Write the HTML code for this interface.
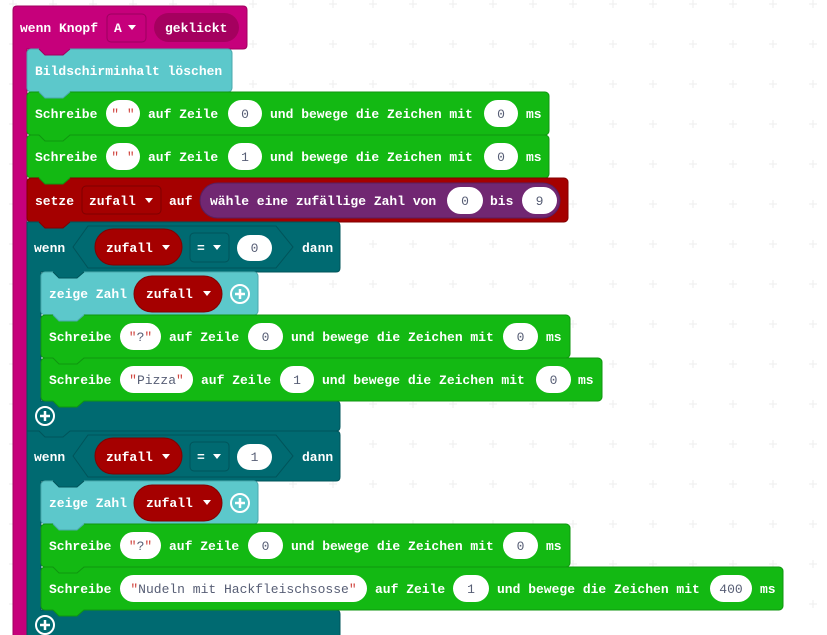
<!DOCTYPE html>
<html><head><meta charset="utf-8"><style>
html,body{margin:0;padding:0;background:#fff;width:827px;height:635px;overflow:hidden}
svg{display:block}
text{font-family:"Liberation Mono",monospace;font-size:13px;font-weight:bold;fill:#fff}
.p{font-weight:normal;fill:#575E75;text-anchor:middle}
.q{fill:#d0453f}
</style></head><body>
<svg width="827" height="635" viewBox="0 0 827 635" xmlns="http://www.w3.org/2000/svg">
<defs>
<pattern id="g" x="-7" y="-16" width="40" height="40" patternUnits="userSpaceOnUse">
<path d="M16,20H24M20,16V24" stroke="#ededed" stroke-width="1"/>
</pattern>
</defs>
<rect width="827" height="635" fill="url(#g)"/>

<!-- hat / event block -->
<path d="M17,6H243Q247,6 247,10V45Q247,49 243,49H27V640H13V10Q13,6 17,6Z" fill="#C6007B" stroke="#A0005F" stroke-width="1"/>
<text x="20" y="32">wenn Knopf</text>
<rect x="107" y="14" width="39" height="28" rx="4" fill="#C6007B" stroke="#9C005F"/>
<text x="114" y="32">A</text>
<polygon points="128,25 136,25 132,30" fill="#fff"/>
<rect x="154" y="13" width="85" height="29" rx="14.5" fill="#A5005F"/>
<text x="165" y="32">geklickt</text>

<!-- clear screen -->
<rect x="27" y="49" width="205" height="43" rx="4" fill="#5CC8CB" stroke="#4AA9AC"/>
<text x="35" y="75">Bildschirminhalt löschen</text>

<!-- green 1 -->
<rect x="27" y="92" width="522" height="43" rx="4" fill="#13B913" stroke="#0F960F"/>
<text x="35" y="118">Schreibe</text>
<rect x="106" y="100" width="34" height="27" rx="13.5" fill="#fff"/>
<text class="p" x="123" y="118"><tspan class="q">"</tspan> <tspan class="q">"</tspan></text>
<text x="148" y="118">auf Zeile</text>
<rect x="228" y="100" width="34" height="27" rx="13.5" fill="#fff"/>
<text class="p" x="245" y="118">0</text>
<text x="270" y="118">und bewege die Zeichen mit</text>
<rect x="484" y="100" width="34" height="27" rx="13.5" fill="#fff"/>
<text class="p" x="501" y="118">0</text>
<text x="526" y="118">ms</text>

<!-- green 2 -->
<rect x="27" y="135" width="522" height="43" rx="4" fill="#13B913" stroke="#0F960F"/>
<text x="35" y="161">Schreibe</text>
<rect x="106" y="143" width="34" height="27" rx="13.5" fill="#fff"/>
<text class="p" x="123" y="161"><tspan class="q">"</tspan> <tspan class="q">"</tspan></text>
<text x="148" y="161">auf Zeile</text>
<rect x="228" y="143" width="34" height="27" rx="13.5" fill="#fff"/>
<text class="p" x="245" y="161">1</text>
<text x="270" y="161">und bewege die Zeichen mit</text>
<rect x="484" y="143" width="34" height="27" rx="13.5" fill="#fff"/>
<text class="p" x="501" y="161">0</text>
<text x="526" y="161">ms</text>

<!-- setze -->
<rect x="27" y="178" width="541" height="44" rx="4" fill="#A50000" stroke="#820000"/>
<text x="35" y="205">setze</text>
<rect x="82" y="186" width="79" height="28" rx="4" fill="#A50000" stroke="#7E0000"/>
<text x="89" y="205">zufall</text>
<polygon points="145,198 153,198 149,203" fill="#fff"/>
<text x="169" y="205">auf</text>
<rect x="200" y="183" width="360" height="35" rx="17.5" fill="#712772" stroke="#5A1E5B"/>
<text x="210" y="205">wähle eine zufällige Zahl von</text>
<rect x="447" y="187" width="36" height="27" rx="13.5" fill="#fff"/>
<text class="p" x="465" y="205">0</text>
<text x="490" y="205">bis</text>
<rect x="522" y="187" width="35" height="27" rx="13.5" fill="#fff"/>
<text class="p" x="539.5" y="205">9</text>

<!-- if 1 -->
<path d="M27,222H336Q340,222 340,226V268Q340,272 336,272H41V401H336Q340,401 340,405V427Q340,431 336,431H27Z" fill="#006A71" stroke="#00545A"/>
<text x="34" y="252">wenn</text>
<polygon points="73,247 88,226 276,226 293,247 276,268 88,268" fill="#006A71" stroke="#00545A"/>
<rect x="95" y="229" width="87" height="36" rx="18" fill="#A50000" stroke="#820000"/>
<text x="106" y="252">zufall</text>
<polygon points="162,245 170,245 166,250" fill="#fff"/>
<rect x="190" y="233" width="39" height="29" rx="4" fill="#006A71" stroke="#00545A"/>
<text x="197" y="252">=</text>
<polygon points="213,245 221,245 217,250" fill="#fff"/>
<rect x="237" y="235" width="35" height="26" rx="13" fill="#fff"/>
<text class="p" x="254.5" y="252">0</text>
<text x="302" y="252">dann</text>

<!-- zeige 1 -->
<rect x="41" y="272" width="217" height="43" rx="4" fill="#5CC8CB" stroke="#4AA9AC"/>
<text x="49" y="298">zeige Zahl</text>
<rect x="134" y="276" width="88" height="36" rx="18" fill="#A50000" stroke="#820000"/>
<text x="146" y="298">zufall</text>
<polygon points="203,291 211,291 207,296" fill="#fff"/>
<circle cx="240" cy="294" r="9" fill="none" stroke="#fff" stroke-width="2"/>
<path d="M235,294H245M240,289V299" stroke="#fff" stroke-width="2.5"/>

<!-- green ? -->
<rect x="41" y="315" width="529" height="43" rx="4" fill="#13B913" stroke="#0F960F"/>
<text x="49" y="341">Schreibe</text>
<rect x="120" y="323" width="41" height="27" rx="13.5" fill="#fff"/>
<text class="p" x="140.5" y="341"><tspan class="q">"</tspan>?<tspan class="q">"</tspan></text>
<text x="169" y="341">auf Zeile</text>
<rect x="248" y="323" width="35" height="27" rx="13.5" fill="#fff"/>
<text class="p" x="265.5" y="341">0</text>
<text x="291" y="341">und bewege die Zeichen mit</text>
<rect x="503" y="323" width="35" height="27" rx="13.5" fill="#fff"/>
<text class="p" x="520.5" y="341">0</text>
<text x="546" y="341">ms</text>

<!-- green Pizza -->
<rect x="41" y="358" width="561" height="43" rx="4" fill="#13B913" stroke="#0F960F"/>
<text x="49" y="384">Schreibe</text>
<rect x="120" y="366" width="73" height="27" rx="13.5" fill="#fff"/>
<text class="p" x="156.5" y="384"><tspan class="q">"</tspan>Pizza<tspan class="q">"</tspan></text>
<text x="201" y="384">auf Zeile</text>
<rect x="280" y="366" width="34" height="27" rx="13.5" fill="#fff"/>
<text class="p" x="297" y="384">1</text>
<text x="322" y="384">und bewege die Zeichen mit</text>
<rect x="536" y="366" width="35" height="27" rx="13.5" fill="#fff"/>
<text class="p" x="553.5" y="384">0</text>
<text x="578" y="384">ms</text>

<circle cx="45" cy="416" r="9" fill="none" stroke="#fff" stroke-width="2"/>
<path d="M40,416H50M45,411V421" stroke="#fff" stroke-width="2.5"/>

<!-- if 2 -->
<path d="M27,431H336Q340,431 340,435V477Q340,481 336,481H41V610H336Q340,610 340,614V640H27Z" fill="#006A71" stroke="#00545A"/>
<text x="34" y="461">wenn</text>
<polygon points="73,456 88,435 276,435 293,456 276,477 88,477" fill="#006A71" stroke="#00545A"/>
<rect x="95" y="438" width="87" height="36" rx="18" fill="#A50000" stroke="#820000"/>
<text x="106" y="461">zufall</text>
<polygon points="162,454 170,454 166,459" fill="#fff"/>
<rect x="190" y="442" width="39" height="29" rx="4" fill="#006A71" stroke="#00545A"/>
<text x="197" y="461">=</text>
<polygon points="213,454 221,454 217,459" fill="#fff"/>
<rect x="237" y="444" width="35" height="26" rx="13" fill="#fff"/>
<text class="p" x="254.5" y="461">1</text>
<text x="302" y="461">dann</text>

<!-- zeige 2 -->
<rect x="41" y="481" width="217" height="43" rx="4" fill="#5CC8CB" stroke="#4AA9AC"/>
<text x="49" y="507">zeige Zahl</text>
<rect x="134" y="485" width="88" height="36" rx="18" fill="#A50000" stroke="#820000"/>
<text x="146" y="507">zufall</text>
<polygon points="203,500 211,500 207,505" fill="#fff"/>
<circle cx="240" cy="503" r="9" fill="none" stroke="#fff" stroke-width="2"/>
<path d="M235,503H245M240,498V508" stroke="#fff" stroke-width="2.5"/>

<!-- green ? 2 -->
<rect x="41" y="524" width="529" height="43" rx="4" fill="#13B913" stroke="#0F960F"/>
<text x="49" y="550">Schreibe</text>
<rect x="120" y="532" width="41" height="27" rx="13.5" fill="#fff"/>
<text class="p" x="140.5" y="550"><tspan class="q">"</tspan>?<tspan class="q">"</tspan></text>
<text x="169" y="550">auf Zeile</text>
<rect x="248" y="532" width="35" height="27" rx="13.5" fill="#fff"/>
<text class="p" x="265.5" y="550">0</text>
<text x="291" y="550">und bewege die Zeichen mit</text>
<rect x="503" y="532" width="35" height="27" rx="13.5" fill="#fff"/>
<text class="p" x="520.5" y="550">0</text>
<text x="546" y="550">ms</text>

<!-- green Nudeln -->
<rect x="41" y="567" width="742" height="43" rx="4" fill="#13B913" stroke="#0F960F"/>
<text x="49" y="593">Schreibe</text>
<rect x="120" y="575" width="247" height="27" rx="13.5" fill="#fff"/>
<text class="p" x="243.5" y="593"><tspan class="q">"</tspan>Nudeln mit Hackfleischsosse<tspan class="q">"</tspan></text>
<text x="375" y="593">auf Zeile</text>
<rect x="453" y="575" width="36" height="27" rx="13.5" fill="#fff"/>
<text class="p" x="471" y="593">1</text>
<text x="497" y="593">und bewege die Zeichen mit</text>
<rect x="710" y="575" width="42" height="27" rx="13.5" fill="#fff"/>
<text class="p" x="731" y="593">400</text>
<text x="760" y="593">ms</text>

<circle cx="45" cy="625" r="9" fill="none" stroke="#fff" stroke-width="2"/>
<path d="M40,625H50M45,620V630" stroke="#fff" stroke-width="2.5"/>

<!-- notch tabs -->
<g stroke-width="1">
<path d="M39,48.5L45,55H63L70,48.5Z" fill="#C6007B"/><path d="M39,49L45,55H63L70,49" fill="none" stroke="#A0005F"/>
<path d="M39,91.5L45,98H63L70,91.5Z" fill="#5CC8CB"/><path d="M39,92L45,98H63L70,92" fill="none" stroke="#4AA9AC"/>
<path d="M39,134.5L45,141H63L70,134.5Z" fill="#13B913"/><path d="M39,135L45,141H63L70,135" fill="none" stroke="#0F960F"/>
<path d="M39,177.5L45,184H63L70,177.5Z" fill="#13B913"/><path d="M39,178L45,184H63L70,178" fill="none" stroke="#0F960F"/>
<path d="M39,221.5L45,228H63L70,221.5Z" fill="#A50000"/><path d="M39,222L45,228H63L70,222" fill="none" stroke="#820000"/>
<path d="M53,271.5L59,278H77L84,271.5Z" fill="#006A71"/><path d="M53,272L59,278H77L84,272" fill="none" stroke="#00545A"/>
<path d="M53,314.5L59,321H77L84,314.5Z" fill="#5CC8CB"/><path d="M53,315L59,321H77L84,315" fill="none" stroke="#4AA9AC"/>
<path d="M53,357.5L59,364H77L84,357.5Z" fill="#13B913"/><path d="M53,358L59,364H77L84,358" fill="none" stroke="#0F960F"/>
<path d="M53,400.5L59,407H77L84,400.5Z" fill="#13B913"/><path d="M53,401L59,407H77L84,401" fill="none" stroke="#0F960F"/>
<path d="M39,430.5L45,437H63L70,430.5Z" fill="#006A71"/><path d="M39,431L45,437H63L70,431" fill="none" stroke="#00545A"/>
<path d="M53,480.5L59,487H77L84,480.5Z" fill="#006A71"/><path d="M53,481L59,487H77L84,481" fill="none" stroke="#00545A"/>
<path d="M53,523.5L59,530H77L84,523.5Z" fill="#5CC8CB"/><path d="M53,524L59,530H77L84,524" fill="none" stroke="#4AA9AC"/>
<path d="M53,566.5L59,573H77L84,566.5Z" fill="#13B913"/><path d="M53,567L59,573H77L84,567" fill="none" stroke="#0F960F"/>
<path d="M53,609.5L59,616H77L84,609.5Z" fill="#13B913"/><path d="M53,610L59,616H77L84,610" fill="none" stroke="#0F960F"/>
</g>
</svg>
</body></html>
